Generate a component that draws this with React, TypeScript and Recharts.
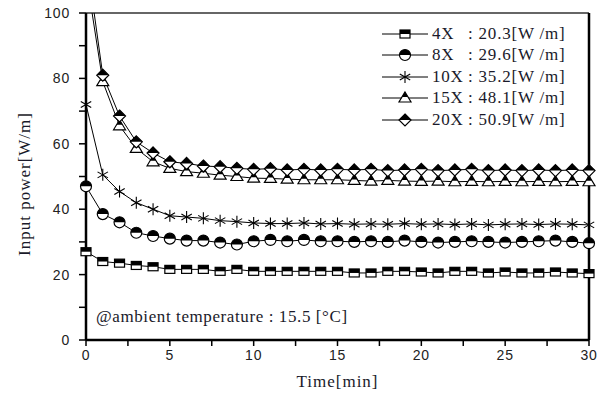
import React from "react";
import { LineChart, Line, XAxis, YAxis, ReferenceLine, Legend } from "recharts";

const minutes = [0, 1, 2, 3, 4, 5, 6, 7, 8, 9, 10, 11, 12, 13, 14, 15, 16, 17, 18, 19, 20, 21, 22, 23, 24, 25, 26, 27, 28, 29, 30];

const power4x = [27, 24, 23.5, 22.8, 22.4, 21.6, 21.6, 21.6, 21, 21.6, 21, 21, 21, 21, 21, 21, 20.5, 20.5, 21, 21, 20.8, 20.5, 21, 21, 20.5, 20.8, 20.5, 20.5, 20.8, 20.5, 20.3];
const power8x = [47, 38.5, 36, 32.8, 31.8, 31, 30.4, 30.4, 29.8, 29.2, 30.2, 30.6, 30.2, 30.6, 30.2, 30.2, 30, 30.2, 30, 30.4, 30, 29.8, 30, 30.2, 30, 29.8, 30, 30.2, 30.4, 30, 29.6];
const power10x = [72, 50.5, 45.4, 42, 40, 38, 37.6, 37.2, 36.5, 36.2, 35.8, 35.6, 35.6, 35.8, 35.5, 35.6, 35.4, 35.5, 35.4, 35.6, 35.4, 35.5, 35.3, 35.5, 35.2, 35.4, 35.5, 35.3, 35.5, 35.4, 35.2];
const power15x = [112, 79, 65.5, 58.6, 54.5, 52.5, 51.5, 51, 50.4, 50, 49.5, 49.4, 49.2, 49, 49, 49, 48.8, 48.6, 48.8, 48.6, 48.5, 48.6, 48.4, 48.5, 48.4, 48.5, 48.4, 48.5, 48.4, 48.5, 48.4];
const power20x = [118, 81, 68.5, 60.6, 57.2, 54.5, 54, 53.2, 53, 52.5, 52.2, 52.4, 52, 52.2, 52, 52.2, 52, 52.2, 51.8, 52, 52.2, 51.8, 52, 52.2, 51.8, 52, 51.8, 52, 51.8, 52, 51.8];

const seriesNames = ["4X", "8X", "10X", "15X", "20X"];
const seriesAverages = ["20.3", "29.6", "35.2", "48.1", "50.9"];
const seriesKeys = ["p4", "p8", "p10", "p15", "p20"];
const markerKinds = ["square", "circle", "star", "triangle", "diamond"];

const yTicks = [0, 10, 20, 30, 40, 50, 60, 70, 80, 90, 100];
const xTicks = [0, 2.5, 5, 7.5, 10, 12.5, 15, 17.5, 20, 22.5, 25, 27.5, 30];

const data = minutes.map((t, i) => ({
  t,
  p4: power4x[i],
  p8: power8x[i],
  p10: power10x[i],
  p15: power15x[i],
  p20: power20x[i],
}));

const serif = "'Liberation Serif', 'Times New Roman', serif";
const sans = "'Liberation Sans', Arial, sans-serif";

function Marker({ kind, x, y }: { kind: string; x: number; y: number }) {
  const sw = 1.2;
  let shape: React.ReactNode = null;
  if (kind === "square") {
    shape = (
      <>
        <rect x={-5} y={-4} width={10} height={8} fill="#fff" stroke="#000" strokeWidth={sw} />
        <rect x={-5} y={-4} width={10} height={4} fill="#000" />
      </>
    );
  } else if (kind === "circle") {
    shape = (
      <>
        <circle r={5.5} fill="#fff" stroke="#000" strokeWidth={sw} />
        <path d="M -5.5 0 A 5.5 5.5 0 0 1 5.5 0 Z" fill="#000" />
      </>
    );
  } else if (kind === "star") {
    shape = (
      <g stroke="#000" strokeWidth={1.1}>
        <line x1={0} y1={-6} x2={0} y2={6} />
        <line x1={-5.2} y1={-3} x2={5.2} y2={3} />
        <line x1={-5.2} y1={3} x2={5.2} y2={-3} />
      </g>
    );
  } else if (kind === "triangle") {
    shape = (
      <>
        <polygon points="0,-6 6,4 -6,4" fill="#fff" stroke="#000" strokeWidth={sw} />
        <polygon points="0,-6 3,-1 -3,-1" fill="#000" />
      </>
    );
  } else {
    shape = (
      <>
        <polygon points="0,-6 6,0 0,6 -6,0" fill="#fff" stroke="#000" strokeWidth={sw} />
        <polygon points="0,-6 6,0 -6,0" fill="#000" />
      </>
    );
  }
  return <g transform={`translate(${x},${y})`}>{shape}</g>;
}

function renderLegend() {
  return (
    <div style={{ fontFamily: serif, fontSize: 17, letterSpacing: 0.8, color: "#1a1a2a" }}>
      {seriesNames.map((name, i) => (
        <div key={name} style={{ display: "flex", alignItems: "center", height: 21.5, whiteSpace: "pre" }}>
          <svg width={46} height={20} style={{ display: "block" }}>
            <line x1={0} y1={10} x2={46} y2={10} stroke="#000" strokeWidth={1} />
            <Marker kind={markerKinds[i]} x={23} y={10} />
          </svg>
          <span style={{ display: "inline-block", width: 36, marginLeft: 4 }}>{name}</span>
          <span>{`: ${seriesAverages[i]}[W /m]`}</span>
        </div>
      ))}
    </div>
  );
}

export default function App() {
  return (
    <div style={{ position: "absolute", left: 0, top: 0, width: 608, height: 396, background: "#fff" }}>
      <LineChart width={608} height={396} data={data} margin={{ top: 13, right: 19, left: 0, bottom: 0 }}>
        <XAxis
          dataKey="t"
          type="number"
          domain={[0, 30]}
          ticks={xTicks}
          interval={0}
          tickFormatter={(v: number) => (v % 5 === 0 ? String(v) : "")}
          height={56}
          tickSize={6}
          tickMargin={4}
          axisLine={{ stroke: "#000", strokeWidth: 2.5 }}
          tickLine={{ stroke: "#000", strokeWidth: 1.5 }}
          tick={{ fill: "#222", fontSize: 14, fontFamily: sans, letterSpacing: 0.8 }}
          label={{
            value: "Time[min]",
            position: "insideBottom",
            offset: 9,
            style: { fontFamily: serif, fontSize: 17, letterSpacing: 1, fill: "#1a1a2a" },
          }}
        />
        <YAxis
          type="number"
          domain={[0, 100]}
          ticks={yTicks}
          interval={0}
          allowDataOverflow
          tickFormatter={(v: number) => (v % 20 === 0 ? String(v) : "")}
          width={86}
          tickSize={7}
          tickMargin={9}
          axisLine={{ stroke: "#000", strokeWidth: 2.5 }}
          tickLine={{ stroke: "#000", strokeWidth: 1.5 }}
          tick={{ fill: "#222", fontSize: 14, fontFamily: sans, letterSpacing: 0.8 }}
          label={{
            content: () => (
              <text
                x={30}
                y={184}
                transform="rotate(-90 30 184)"
                textAnchor="middle"
                style={{ fontFamily: serif, fontSize: 17, letterSpacing: 1, fill: "#1a1a2a" }}
              >
                Input power[W/m]
              </text>
            ),
          }}
        />
        <ReferenceLine y={100} stroke="#333" strokeWidth={1.5} />
        <ReferenceLine x={30} stroke="#000" strokeWidth={2.5} />
        {seriesKeys.map((key, i) => (
          <Line
            key={key}
            dataKey={key}
            name={seriesNames[i]}
            stroke="#000"
            strokeWidth={1}
            isAnimationActive={false}
            activeDot={false}
            dot={(p: any) => <Marker key={`${key}-${p.index}`} kind={markerKinds[i]} x={p.cx} y={p.cy} />}
          />
        ))}
        <Legend
          layout="vertical"
          align="center"
          verticalAlign="middle"
          content={renderLegend}
          wrapperStyle={{ top: 23, left: 382, width: 210, height: 110 }}
        />
      </LineChart>
      <div
        style={{
          position: "absolute",
          left: 96,
          top: 307,
          fontFamily: serif,
          fontSize: 17,
          letterSpacing: 0.6,
          color: "#1a1a2a",
          whiteSpace: "pre",
        }}
      >
        @ambient temperature : 15.5 [°C]
      </div>
    </div>
  );
}
